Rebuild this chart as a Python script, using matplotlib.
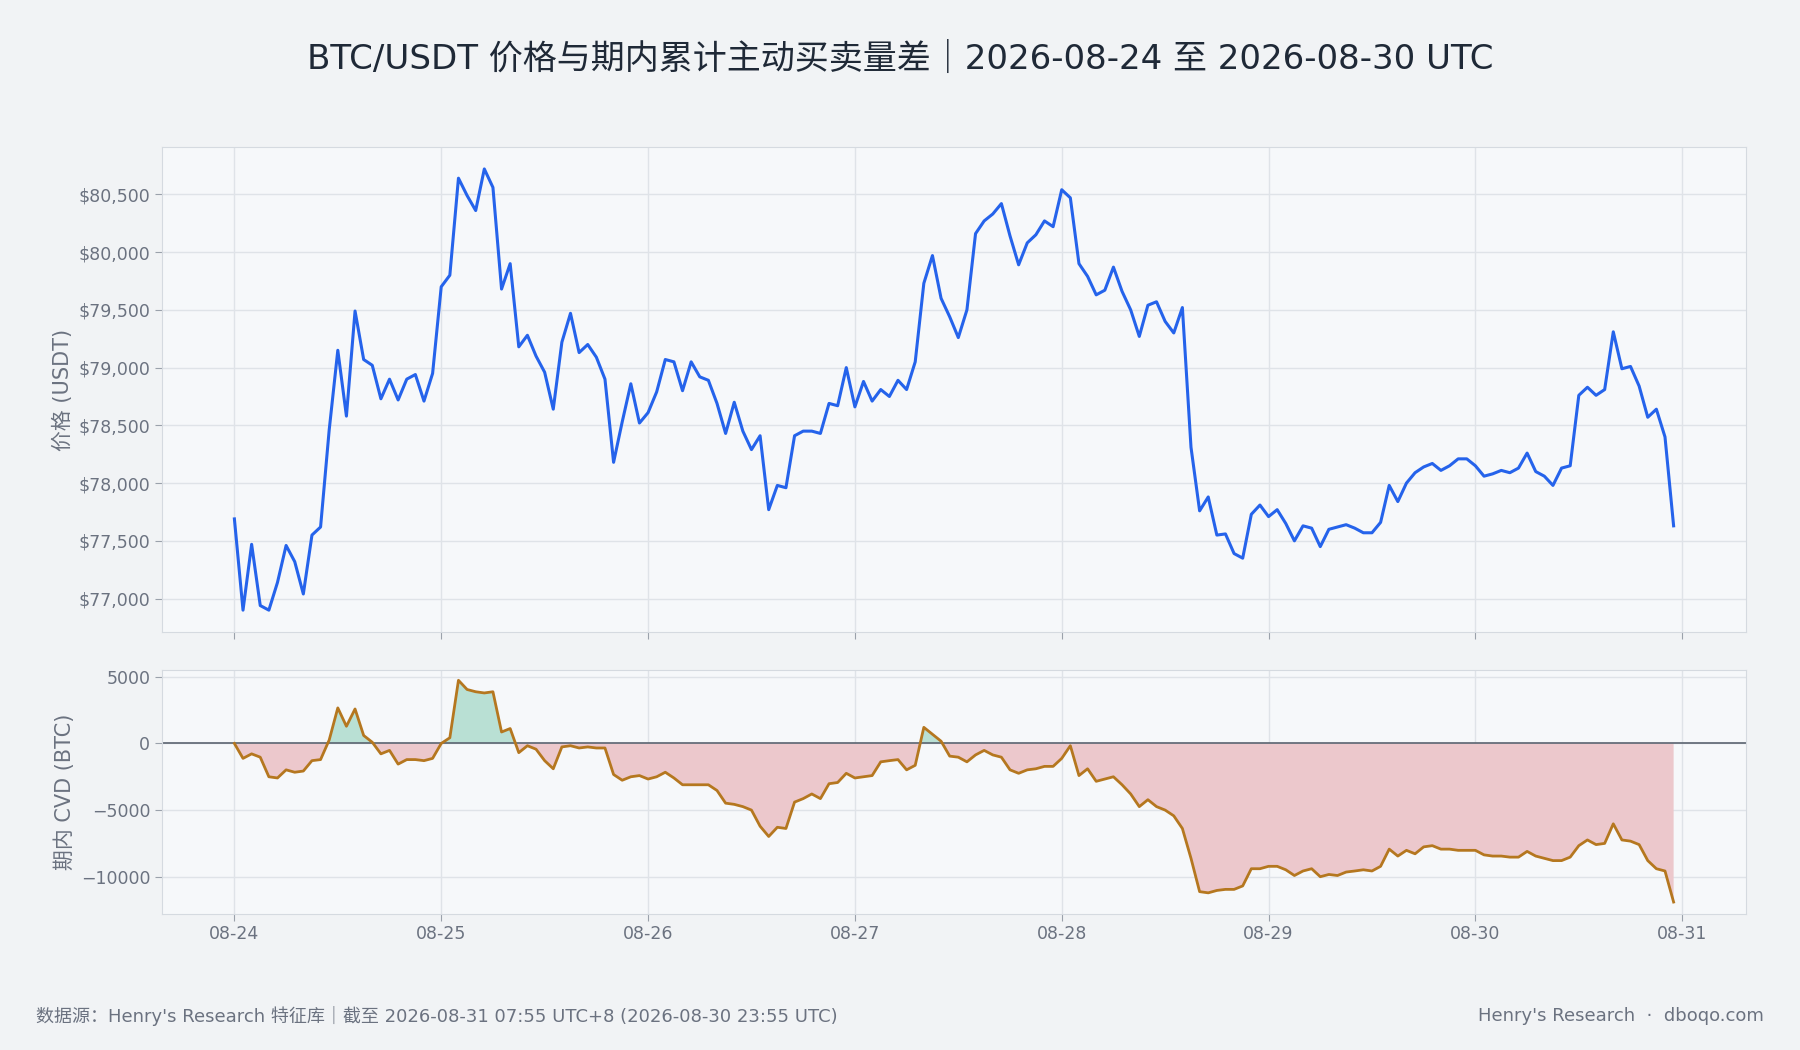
import matplotlib
matplotlib.use('Agg')
import matplotlib.pyplot as plt
import matplotlib.dates as mdates
from matplotlib.ticker import FuncFormatter
import numpy as np
import pandas as pd

plt.rcParams['font.family'] = ['DejaVu Sans', 'Noto Sans CJK SC']

# hourly data, 2026-08-24 00:00 .. 2026-08-30 23:00 UTC
times = pd.date_range('2026-08-24 00:00', periods=168, freq='h')

price = [
    77690, 76900, 77470, 76940, 76900, 77140, 77460, 77320, 77040, 77550, 77620, 78460,
    79150, 78580, 79490, 79070, 79020, 78730, 78900, 78720, 78900, 78940, 78710, 78950,
    79700, 79800, 80640, 80490, 80360, 80720, 80560, 79680, 79900, 79180, 79280, 79100,
    78960, 78640, 79220, 79470, 79130, 79200, 79090, 78900, 78180, 78530, 78860, 78520,
    78610, 78790, 79070, 79050, 78800, 79050, 78920, 78890, 78690, 78430, 78700, 78450,
    78290, 78410, 77770, 77980, 77960, 78410, 78450, 78450, 78430, 78690, 78670, 79000,
    78660, 78880, 78710, 78810, 78750, 78890, 78810, 79050, 79730, 79970, 79600, 79440,
    79260, 79500, 80160, 80270, 80330, 80420, 80140, 79890, 80080, 80150, 80270, 80220,
    80540, 80470, 79900, 79790, 79630, 79670, 79870, 79660, 79500, 79270, 79540, 79570,
    79400, 79300, 79520, 78310, 77760, 77880, 77550, 77560, 77390, 77350, 77730, 77810,
    77710, 77770, 77650, 77500, 77630, 77610, 77450, 77600, 77620, 77640, 77610, 77570,
    77570, 77660, 77980, 77840, 78000, 78090, 78140, 78170, 78110, 78150, 78210, 78210,
    78150, 78060, 78080, 78110, 78090, 78130, 78260, 78100, 78060, 77980, 78130, 78150,
    78760, 78830, 78760, 78810, 79310, 78990, 79010, 78840, 78570, 78640, 78400, 77630,
]

cvd = [
    0, -1120, -780, -1030, -2500, -2590, -1980, -2160, -2070, -1290, -1210, 260,
    2670, 1290, 2590, 600, 90, -780, -520, -1550, -1210, -1210, -1290, -1120,
    0, 430, 4740, 4050, 3880, 3790, 3880, 860, 1120, -690, -170, -430,
    -1290, -1900, -260, -170, -340, -260, -340, -340, -2330, -2760, -2500, -2410,
    -2670, -2500, -2160, -2590, -3100, -3100, -3100, -3100, -3530, -4480, -4570, -4740,
    -5000, -6210, -6980, -6290, -6380, -4400, -4140, -3790, -4140, -3020, -2930, -2240,
    -2590, -2500, -2410, -1380, -1290, -1210, -1980, -1640, 1210, 690, 170, -950,
    -1030, -1380, -860, -520, -860, -1030, -1980, -2240, -1980, -1900, -1720, -1720,
    -1120, -170, -2410, -1900, -2840, -2670, -2500, -3100, -3790, -4740, -4220, -4740,
    -5000, -5430, -6380, -8620, -11120, -11210, -11030, -10950, -10950, -10690, -9400, -9400,
    -9220, -9220, -9480, -9910, -9570, -9400, -10000, -9830, -9910, -9650, -9570, -9480,
    -9570, -9220, -7930, -8450, -8020, -8280, -7760, -7670, -7930, -7930, -8020, -8020,
    -8020, -8360, -8450, -8450, -8530, -8530, -8100, -8450, -8620, -8790, -8790, -8530,
    -7670, -7240, -7590, -7500, -6030, -7240, -7330, -7590, -8790, -9400, -9570, -11900,
]

price_ticks = [77000, 77500, 78000, 78500, 79000, 79500, 80000, 80500]
cvd_ticks = [5000, 0, -5000, -10000]

BG = '#f1f3f5'
AX_BG = '#f6f8fa'
GRID = '#dfe3e8'
TXT = '#6b7280'
SPINE = '#d5dae0'

fig = plt.figure(figsize=(18, 10.5), dpi=100, facecolor=BG)
ax1 = fig.add_axes([0.090, 0.398, 0.880, 0.462])
ax2 = fig.add_axes([0.090, 0.130, 0.880, 0.232], sharex=ax1)

for ax in (ax1, ax2):
    ax.set_facecolor(AX_BG)
    ax.grid(True, color=GRID, linewidth=1)
    ax.set_axisbelow(True)
    for s in ax.spines.values():
        s.set_color(SPINE)
    ax.tick_params(colors=TXT, labelsize=12.5, length=5, color='#9aa1ab')

ax1.plot(times, price, color='#2563eb', linewidth=2.2)
ax1.set_ylim(76710, 80910)
ax1.set_yticks(price_ticks)
ax1.yaxis.set_major_formatter(FuncFormatter(lambda v, p: f'${v:,.0f}'))
ax1.set_ylabel('价格 (USDT)', color=TXT, fontsize=15)
ax1.tick_params(labelbottom=False)

cv = np.array(cvd, dtype=float)
ax2.fill_between(times, cv, 0, where=cv >= 0, interpolate=True, color='#b9e0d4', linewidth=0)
ax2.fill_between(times, cv, 0, where=cv <= 0, interpolate=True, color='#ecc8cc', linewidth=0)
ax2.axhline(0, color='#5b6470', linewidth=1.2)
ax2.plot(times, cv, color='#b5771f', linewidth=2)
ax2.set_ylim(-12760, 5520)
ax2.set_yticks(cvd_ticks)
ax2.set_ylabel('期内 CVD (BTC)', color=TXT, fontsize=15)

ax2.xaxis.set_major_locator(mdates.DayLocator())
ax2.xaxis.set_major_formatter(mdates.DateFormatter('%m-%d'))
ax2.set_xlim(times[0] - pd.Timedelta(hours=8.4), times[-1] + pd.Timedelta(hours=8.4))

fig.text(0.5, 0.944, 'BTC/USDT 价格与期内累计主动买卖量差｜2026-08-24 至 2026-08-30 UTC',
         ha='center', va='center', fontsize=24.5, color='#1f2937')
fig.text(0.020, 0.032, "数据源：Henry's Research 特征库｜截至 2026-08-31 07:55 UTC+8 (2026-08-30 23:55 UTC)",
         ha='left', va='center', fontsize=13, color=TXT)
fig.text(0.980, 0.032, "Henry's Research  ·  dboqo.com",
         ha='right', va='center', fontsize=13, color=TXT)

fig.savefig('out.png', dpi=100, facecolor=BG)
